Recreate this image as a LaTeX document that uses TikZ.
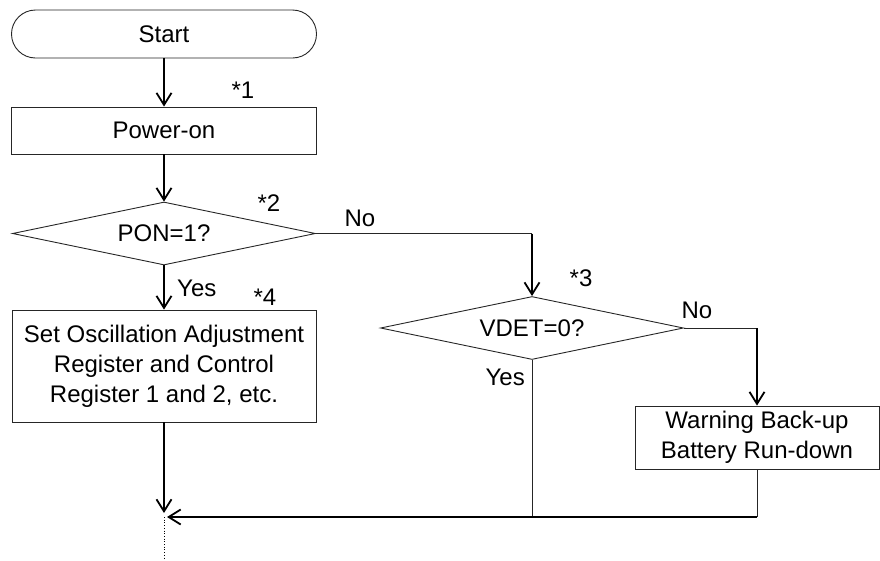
\documentclass[tikz,border=0pt]{standalone}
\usepackage{fontspec}
\setmainfont{Liberation Sans}
\usetikzlibrary{shapes.geometric,arrows.meta}

\begin{document}
\begin{tikzpicture}[x=1pt,y=-1pt,
    box/.style={draw=black!85, line width=0.9pt, font=\fontsize{24}{30}\selectfont, align=center, inner sep=0pt},
    decision/.style={box, diamond, aspect=4.8, minimum width=303pt, minimum height=63pt},
    flow/.style={line width=2pt, -{Straight Barb[length=12pt,width=15pt,line width=1.8pt]}},
    link/.style={draw=black!85, line width=1pt},
    note/.style={font=\fontsize{24}{30}\selectfont, inner sep=0pt}]
    \useasboundingbox (0,0) rectangle (880,560);
    % Main column
    \node[box, rounded corners=24pt, minimum width=305pt, minimum height=48pt] (start) at (164,34) {Start};
    \node[box, minimum width=305pt, minimum height=47pt] (power) at (164,130.5) {Power-on};
    \node[decision] (pon) at (164,233.5) {PON=1?};
    \node[box, minimum width=304pt, minimum height=112pt] (setreg) at (164,366) {Set Oscillation Adjustment\\Register and Control\\Register 1 and 2, etc.};
    \coordinate (merge) at (164,517);
    \coordinate (exit) at (164,560);
    % Battery check branch
    \node[decision] (vdet) at (532,328) {VDET=0?};
    \node[box, minimum width=244pt, minimum height=63pt] (warn) at (757,437.5) {Warning Back-up\\Battery Run-down};
    % Notes
    \node[note] (n1) at (243,90) {*1};
    \node[note] (n2) at (269,203) {*2};
    \node[note] (n3) at (581,278) {*3};
    \node[note] (n4) at (265,297) {*4};
    \node[note, anchor=west] (ponyes) at (177,288) {Yes};
    \node[note] (ponno) at (360,218) {No};
    \node[note, anchor=east] (vdetyes) at (525,377) {Yes};
    \node[note] (vdetno) at (697,310) {No};
    % Connectors
    \draw[flow] (start) -- (power);
    \draw[flow] (power) -- (pon);
    \draw[flow] (pon) -- (setreg);
    \draw[flow] (setreg) -- ([yshift=4pt]merge);
    \draw[link] (pon.east) -- (pon.east -| vdet.north);
    \draw[flow] (pon.east -| vdet.north) -- (vdet.north);
    \draw[link] (vdet.east) -- (vdet.east -| warn.north);
    \draw[flow] (vdet.east -| warn.north) -- (warn.north);
    \draw[link] (vdet.south) -- (vdet.south |- merge);
    \draw[link] (warn.south) -- (warn.south |- merge);
    \draw[flow] (warn.south |- merge) -- ([xshift=3pt]merge);
    \draw[dotted, line width=0.7pt] (merge) -- (exit);
\end{tikzpicture}
\end{document}
